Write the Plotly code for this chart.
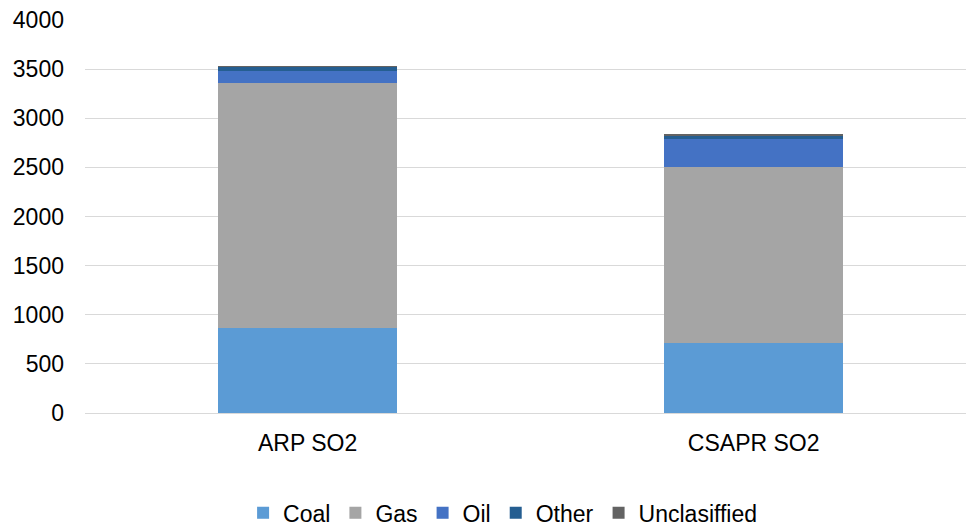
import plotly.graph_objects as go

categories = ["ARP SO2", "CSAPR SO2"]
coal = [865, 712]
gas = [2490, 1790]
oil = [125, 282]
other = [42, 40]
unclassified = [8, 8]

series = [
    ("Coal", coal, "#5B9BD5"),
    ("Gas", gas, "#A5A5A5"),
    ("Oil", oil, "#4472C4"),
    ("Other", other, "#255E91"),
    ("Unclasiffied", unclassified, "#636363"),
]

fig = go.Figure()
for name, vals, color in series:
    fig.add_trace(go.Bar(
        x=categories, y=vals, name=name,
        marker=dict(color=color, line=dict(width=0)),
        width=0.401,
    ))

font_family = "Liberation Sans, Arial, sans-serif"
fig.update_layout(
    barmode="stack",
    width=966, height=527,
    margin=dict(l=85, r=0, t=19.5, b=114, autoexpand=False),
    paper_bgcolor="white", plot_bgcolor="white",
    font=dict(family=font_family, size=23, color="#000000"),
    showlegend=True,
    legend=dict(
        orientation="h", x=0.474, xanchor="center", y=-0.254, yanchor="middle",
        font=dict(size=23, color="#000000"), traceorder="normal",
        itemwidth=30, tracegroupgap=0,
    ),
    xaxis=dict(
        range=[-0.499, 1.476], showgrid=False, showline=False, zeroline=False,
        ticks="", tickfont=dict(size=23), ticklabelstandoff=14,
    ),
    yaxis=dict(
        range=[0, 4000], dtick=500, tick0=0, showgrid=True, gridcolor="#D9D9D9",
        gridwidth=1, zeroline=True, zerolinecolor="#D9D9D9", zerolinewidth=1,
        showline=False, ticks="", tickfont=dict(size=23), ticklabelstandoff=20,
    ),
)

fig.write_html("out.html")
